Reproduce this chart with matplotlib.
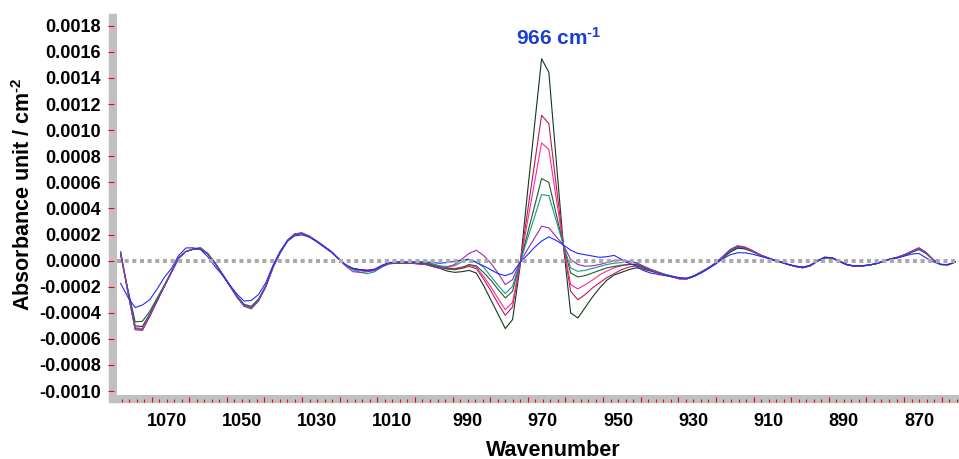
import numpy as np
import matplotlib
matplotlib.use('Agg')
import matplotlib.pyplot as plt
from matplotlib.patches import Rectangle
from matplotlib.ticker import FixedLocator, MultipleLocator, FuncFormatter, NullFormatter

plt.rcParams['font.family'] = ['Liberation Sans', 'DejaVu Sans']
plt.rcParams['font.weight'] = 'bold'
plt.rcParams['mathtext.fontset'] = 'custom'
plt.rcParams['mathtext.rm'] = 'Liberation Sans:bold'
plt.rcParams['mathtext.it'] = 'Liberation Sans:bold'
plt.rcParams['mathtext.bf'] = 'Liberation Sans:bold'

# wavenumber axis of the difference spectra (cm-1)
wn_first = 1082.23
wn_step = 1.929
n_points = 116
wavenumber = wn_first - wn_step * np.arange(n_points)

# difference absorbance, in units of 1e-4 per cm2 (1082 -> 860 cm-1)
spec_1 = [0.5, -2.3, -5.0, -5.05, -4.1, -3.0, -1.95, -0.85, 0.2, 0.7,
          0.9, 0.95, 0.55, -0.15, -1.0, -1.85, -2.7, -3.4, -3.6, -3.0,
          -1.95, -0.5, 0.65, 1.55, 2.05, 2.1, 1.85, 1.5, 1.1, 0.7,
          0.15, -0.35, -0.6, -0.7, -0.75, -0.7, -0.45, -0.25, -0.2, -0.2,
          -0.2, -0.25, -0.3, -0.45, -0.6, -0.8, -0.9, -0.85, -0.75, -0.95,
          -1.9, -3.0, -4.1, -5.21, -4.52, -0.6, 4.9, 10.2, 15.47, 14.44,
          7.8, 1.2, -4.0, -4.4, -3.6, -2.8, -2.1, -1.5, -1.1, -0.9,
          -0.7, -0.55, -0.65, -0.8, -0.95, -1.1, -1.25, -1.35, -1.4, -1.2,
          -0.9, -0.6, -0.25, 0.2, 0.65, 0.95, 0.9, 0.7, 0.45, 0.25,
          0.0, -0.15, -0.3, -0.42, -0.5, -0.4, -0.05, 0.2, 0.22, 0.0,
          -0.28, -0.42, -0.42, -0.36, -0.25, -0.05, 0.1, 0.22, 0.4, 0.65,
          0.85, 0.55, 0.05, -0.28, -0.32, -0.12]
spec_2 = [0.6, -2.4, -5.2, -5.25, -4.2, -3.1, -2.0, -0.9, 0.2, 0.7,
          0.88, 0.95, 0.5, -0.2, -1.05, -1.9, -2.75, -3.45, -3.65, -3.05,
          -2.0, -0.5, 0.65, 1.55, 2.05, 2.12, 1.88, 1.5, 1.1, 0.7,
          0.15, -0.35, -0.65, -0.75, -0.8, -0.75, -0.45, -0.2, -0.15, -0.15,
          -0.15, -0.2, -0.2, -0.35, -0.5, -0.65, -0.7, -0.6, -0.45, -0.6,
          -1.4, -2.3, -3.3, -4.19, -3.55, -0.4, 3.5, 7.3, 11.14, 10.5,
          5.85, 1.2, -2.35, -3.0, -2.6, -2.1, -1.7, -1.3, -1.0, -0.7,
          -0.5, -0.4, -0.55, -0.75, -0.95, -1.1, -1.25, -1.4, -1.4, -1.2,
          -0.9, -0.55, -0.2, 0.3, 0.8, 1.1, 1.0, 0.75, 0.45, 0.25,
          0.05, -0.1, -0.3, -0.45, -0.55, -0.4, -0.05, 0.25, 0.22, -0.05,
          -0.3, -0.42, -0.42, -0.35, -0.25, -0.08, 0.12, 0.25, 0.45, 0.7,
          0.95, 0.6, 0.05, -0.3, -0.32, -0.1]
spec_3 = [0.55, -2.4, -5.15, -5.2, -4.2, -3.1, -2.0, -0.9, 0.2, 0.7,
          0.88, 0.95, 0.5, -0.2, -1.05, -1.9, -2.75, -3.4, -3.6, -3.0,
          -1.95, -0.48, 0.65, 1.55, 2.05, 2.1, 1.85, 1.5, 1.1, 0.7,
          0.15, -0.35, -0.65, -0.75, -0.8, -0.75, -0.45, -0.2, -0.15, -0.15,
          -0.15, -0.15, -0.15, -0.3, -0.45, -0.55, -0.6, -0.5, -0.35, -0.5,
          -1.2, -2.0, -2.9, -3.76, -3.2, -0.35, 2.8, 5.9, 9.02, 8.51,
          4.85, 1.2, -1.84, -2.17, -1.85, -1.5, -1.1, -0.8, -0.55, -0.4,
          -0.3, -0.25, -0.45, -0.7, -0.9, -1.1, -1.25, -1.4, -1.4, -1.2,
          -0.9, -0.55, -0.15, 0.35, 0.85, 1.15, 1.05, 0.8, 0.5, 0.25,
          0.05, -0.1, -0.3, -0.45, -0.55, -0.4, -0.05, 0.25, 0.22, -0.05,
          -0.3, -0.42, -0.4, -0.35, -0.25, -0.08, 0.12, 0.25, 0.45, 0.72,
          1.0, 0.62, 0.05, -0.3, -0.32, -0.1]
spec_4 = [0.45, -2.2, -4.7, -4.65, -3.9, -2.9, -1.9, -0.85, 0.2, 0.7,
          0.85, 0.9, 0.5, -0.2, -1.05, -1.85, -2.7, -3.35, -3.5, -2.95,
          -1.95, -0.5, 0.6, 1.5, 2.0, 2.05, 1.82, 1.48, 1.1, 0.7,
          0.15, -0.35, -0.6, -0.7, -0.75, -0.7, -0.45, -0.2, -0.15, -0.15,
          -0.15, -0.2, -0.2, -0.35, -0.5, -0.6, -0.65, -0.55, -0.3, -0.4,
          -0.9, -1.5, -2.2, -2.86, -2.35, -0.25, 1.95, 4.1, 6.29, 6.0,
          3.6, 1.2, -0.94, -1.25, -1.15, -0.95, -0.75, -0.55, -0.45, -0.35,
          -0.3, -0.3, -0.5, -0.7, -0.9, -1.05, -1.2, -1.35, -1.35, -1.15,
          -0.85, -0.55, -0.2, 0.25, 0.7, 1.0, 0.95, 0.72, 0.45, 0.25,
          0.05, -0.1, -0.3, -0.45, -0.52, -0.4, -0.05, 0.22, 0.2, -0.05,
          -0.3, -0.4, -0.4, -0.35, -0.25, -0.08, 0.1, 0.22, 0.4, 0.65,
          0.88, 0.55, 0.05, -0.3, -0.3, -0.1]
spec_5 = [0.6, -2.45, -5.25, -5.3, -4.25, -3.1, -2.0, -0.9, 0.2, 0.7,
          0.9, 1.0, 0.55, -0.15, -1.0, -1.9, -2.75, -3.45, -3.65, -3.05,
          -2.0, -0.5, 0.65, 1.55, 2.05, 2.1, 1.85, 1.5, 1.1, 0.7,
          0.15, -0.35, -0.7, -0.9, -1.0, -0.85, -0.5, -0.2, -0.1, -0.1,
          -0.1, -0.1, -0.1, -0.25, -0.4, -0.45, -0.4, -0.1, 0.1, -0.1,
          -0.5, -1.2, -1.9, -2.53, -1.97, -0.2, 1.57, 3.3, 5.06, 4.98,
          3.1, 1.2, -0.56, -0.82, -0.75, -0.6, -0.45, -0.3, -0.2, -0.15,
          -0.1, -0.15, -0.4, -0.65, -0.85, -1.05, -1.2, -1.35, -1.4, -1.2,
          -0.9, -0.55, -0.2, 0.3, 0.8, 1.08, 1.0, 0.75, 0.45, 0.25,
          0.05, -0.1, -0.3, -0.45, -0.55, -0.4, -0.05, 0.25, 0.22, -0.05,
          -0.3, -0.42, -0.42, -0.35, -0.25, -0.08, 0.12, 0.25, 0.45, 0.7,
          0.92, 0.58, 0.05, -0.3, -0.32, -0.1]
spec_6 = [0.7, -2.4, -5.3, -5.35, -4.3, -3.15, -2.0, -0.9, 0.2, 0.7,
          0.88, 0.95, 0.5, -0.2, -1.05, -1.9, -2.8, -3.5, -3.7, -3.1,
          -2.0, -0.5, 0.65, 1.55, 2.05, 2.1, 1.85, 1.5, 1.1, 0.7,
          0.15, -0.4, -0.85, -0.9, -0.85, -0.75, -0.45, -0.2, -0.15, -0.15,
          -0.2, -0.25, -0.3, -0.45, -0.6, -0.5, -0.3, 0.1, 0.55, 0.79,
          0.4, -0.2, -0.95, -1.84, -1.46, -0.15, 0.8, 1.7, 2.63, 2.51,
          1.85, 1.2, 0.1, -0.3, -0.43, -0.4, -0.3, -0.15, 0.0, 0.05,
          -0.05, -0.15, -0.45, -0.7, -0.9, -1.1, -1.25, -1.4, -1.4, -1.2,
          -0.9, -0.55, -0.2, 0.3, 0.85, 1.1, 1.02, 0.75, 0.45, 0.25,
          0.05, -0.1, -0.3, -0.45, -0.55, -0.4, -0.05, 0.25, 0.22, -0.05,
          -0.3, -0.42, -0.42, -0.35, -0.25, -0.08, 0.12, 0.25, 0.45, 0.7,
          0.95, 0.6, 0.05, -0.3, -0.32, -0.1]
spec_7 = [-1.75, -2.8, -3.6, -3.4, -3.0, -2.2, -1.3, -0.6, 0.4, 0.97,
          0.98, 0.85, 0.3, -0.45, -1.1, -1.85, -2.55, -3.1, -3.05, -2.6,
          -1.7, -0.35, 0.75, 1.5, 1.9, 1.97, 1.8, 1.45, 1.05, 0.65,
          0.15, -0.3, -0.6, -0.7, -0.75, -0.65, -0.35, -0.15, -0.1, -0.1,
          -0.1, -0.1, -0.1, -0.15, -0.2, -0.15, -0.05, 0.05, 0.1, -0.15,
          -0.4, -0.7, -1.0, -1.15, -0.95, -0.15, 0.4, 1.0, 1.5, 1.82,
          1.55, 1.2, 0.8, 0.55, 0.45, 0.35, 0.25, 0.3, 0.4, 0.1,
          -0.2, -0.4, -0.75, -0.95, -1.05, -1.15, -1.2, -1.3, -1.35, -1.2,
          -0.95, -0.6, -0.25, 0.15, 0.45, 0.6, 0.6, 0.5, 0.35, 0.2,
          0.05, -0.1, -0.3, -0.42, -0.5, -0.35, 0.0, 0.25, 0.22, -0.05,
          -0.3, -0.4, -0.4, -0.35, -0.25, -0.08, 0.1, 0.2, 0.35, 0.5,
          0.55, 0.2, -0.1, -0.3, -0.3, -0.1]

spectra = [spec_1, spec_2, spec_3, spec_4, spec_5, spec_6, spec_7]
colors = ['#0e3b14', '#c0165e', '#ff2a94', '#1d5e26', '#16998a', '#9a2bb0', '#1f2cff']

y_ticks = [-0.0010, -0.0008, -0.0006, -0.0004, -0.0002, 0.0000,
           0.0002, 0.0004, 0.0006, 0.0008, 0.0010, 0.0012, 0.0014, 0.0016, 0.0018]
long_ticks = [1074, 1064, 1054, 1044, 1034, 1024, 1014, 1004, 994, 984, 974,
              964, 954, 944, 934, 924, 914, 904, 894, 884, 874, 864]

W, H = 959, 459
fig = plt.figure(figsize=(W / 100, H / 100), dpi=100)
ax = fig.add_axes([117 / W, 64 / H, 842 / W, 381 / H])
ax.set_zorder(1)

# grey frame bars on the left and bottom, under the red ticks
fig.patches.append(Rectangle((109 / W, 57 / H), 8 / W, 388 / H,
                             transform=fig.transFigure, color='#c0c0c0', zorder=0))
fig.patches.append(Rectangle((109 / W, 57 / H), 850 / W, 7 / H,
                             transform=fig.transFigure, color='#c0c0c0', zorder=0))

for y, c in zip(spectra, colors):
    ax.plot(wavenumber, np.array(y) * 1e-4, color=c, lw=0.8, zorder=2)

ax.axhline(0, color='#aaaaaa', lw=2.9, linestyle=(0, (1, 0.9)), zorder=3)

ax.set_xlim(1083.2, 859.4)
ax.set_ylim(-0.00103, 0.00189)

for s in ax.spines.values():
    s.set_visible(False)
ax.spines['left'].set_position(('outward', 2.2))
ax.spines['bottom'].set_position(('outward', 5.0))

ax.yaxis.set_major_locator(FixedLocator(y_ticks))
ax.yaxis.set_major_formatter(FuncFormatter(lambda v, p: f'{(0.0 if abs(v) < 1e-9 else v):.4f}'))
ax.tick_params(axis='y', direction='out', length=4.3, width=0.8, color='#ff0000',
               pad=5, labelsize=13)

ax.xaxis.set_major_locator(FixedLocator(long_ticks))
ax.xaxis.set_major_formatter(NullFormatter())
ax.xaxis.set_minor_locator(MultipleLocator(2))
ax.xaxis.set_minor_formatter(FuncFormatter(
    lambda v, p: f'{v:.0f}' if int(round(v)) % 20 == 10 else ''))
ax.tick_params(axis='x', which='major', direction='in', length=3.6, width=0.8,
               color='#ff0000')
ax.tick_params(axis='x', which='minor', direction='in', length=2.2, width=0.8,
               color='#ff0000', pad=8, labelsize=13)

ax.text(0.525, 0.937, r'966 cm$^{\text{-1}}$', transform=ax.transAxes, ha='center',
        va='center', fontsize=15, color='#1a3fd0', fontweight='bold')

fig.text(553 / W, 1 - 450 / H, 'Wavenumber', ha='center', va='center',
         fontsize=15.5, fontweight='bold')
fig.text(24 / W, 1 - 194 / H, r'Absorbance unit / cm$^{\text{-2}}$', ha='center',
         va='center', rotation=90, fontsize=15.5, fontweight='bold')

fig.savefig('out.png', dpi=100)
